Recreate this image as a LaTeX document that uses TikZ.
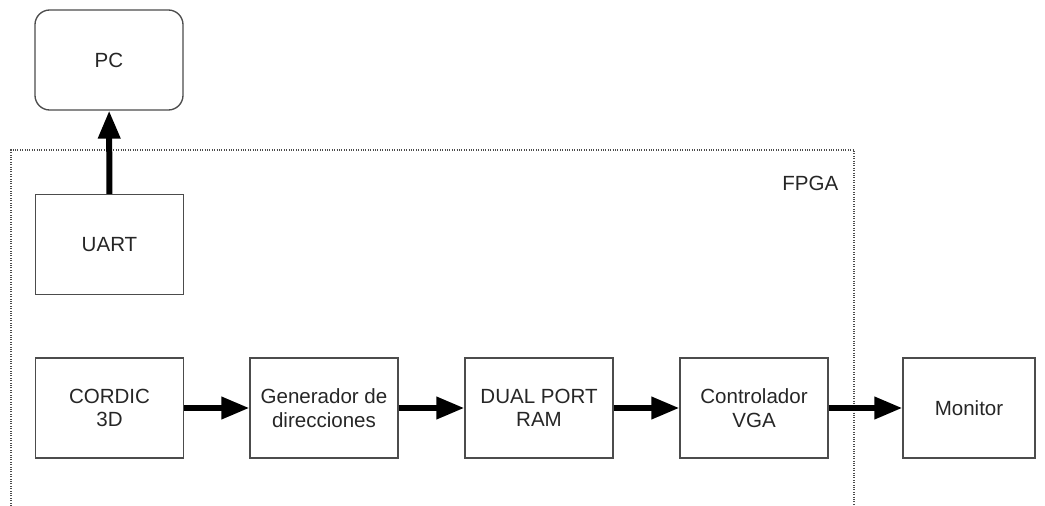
\documentclass[tikz,border=0pt]{standalone}
\usepackage{fontspec}
\setmainfont{Liberation Sans}
\usetikzlibrary{arrows.meta}

\begin{document}
\begin{tikzpicture}[x=0.75pt,y=-0.75pt,
    every node/.style={font=\fontsize{15.4}{17.5}\selectfont,align=center,text=black!85},
    block/.style={rectangle,draw=black!70,line width=1pt,minimum width=111pt,minimum height=75pt},
    bus/.style={line width=4.5pt,-{Triangle[length=21pt,width=16pt]}}]

      \useasboundingbox (0,0) rectangle (1045,506);

      % FPGA frame, open at the bottom
      \draw[densely dotted,black!70,line width=0.8pt] (11,506) -- (11,150) -- (854,150) -- (854,506);
      \node[anchor=east] (fpga) at (843,183) {FPGA};

      \node[block,rounded corners=11pt] (pc) at (109,60) {PC};
      \node[block] (uart) at (109.5,244.5) {UART};
        \draw[bus] (uart) -- (pc);

      \node[block] (cordic) at (109.5,408) {CORDIC\\3D};
      \node[block] (gen) at (324,408) {Generador de\\direcciones};
        \draw[bus] (cordic) -- (gen);

      \node[block] (ram) at (539,408) {DUAL PORT\\RAM};
        \draw[bus] (gen) -- (ram);

      \node[block] (vga) at (754,408) {Controlador\\VGA};
        \draw[bus] (ram) -- (vga);

      \node[block,minimum width=99pt] (mon) at (969,408) {Monitor};
        \draw[bus] (vga) -- (mon);

    \end{tikzpicture}
\end{document}
